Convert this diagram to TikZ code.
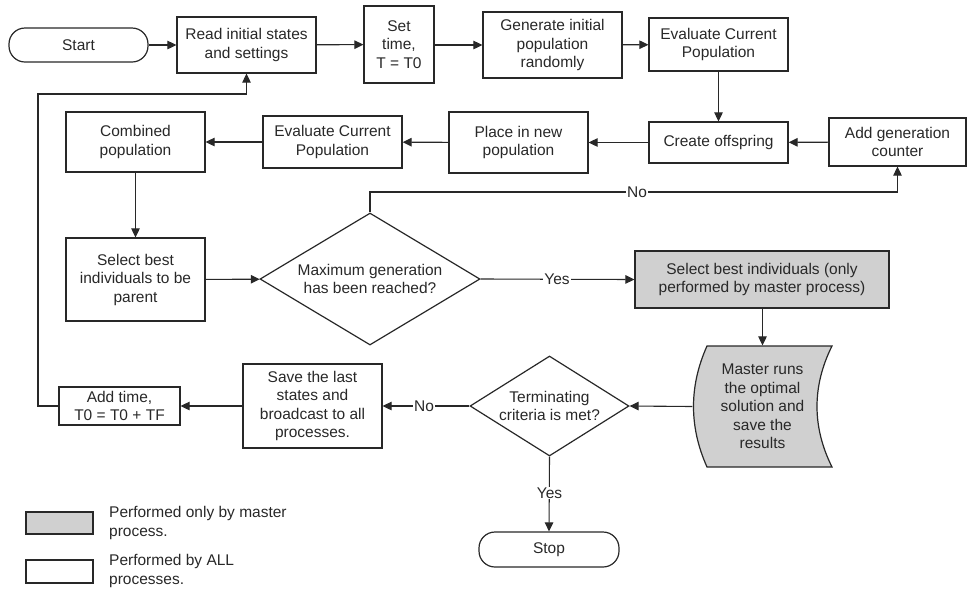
\documentclass[tikz,border=0pt]{standalone}
\usepackage{fontspec}
\setmainfont{Liberation Sans}
\usetikzlibrary{arrows.meta,shapes.geometric,backgrounds}
\definecolor{lgray}{RGB}{208,208,208}
\definecolor{ink}{RGB}{40,40,40}
\tikzset{
  base/.style={draw=ink, line width=1.2pt, inner sep=0pt, align=center, text=ink,
    font=\fontsize{15.5}{18.5}\selectfont},
  box/.style={base, rectangle},
  gbox/.style={base, rectangle, fill=lgray},
  termbox/.style={base, rectangle, rounded corners=16pt},
  decbox/.style={base, diamond, aspect=1.667},
  arr/.style={draw=ink, line width=1.1pt, -{Triangle[length=9pt,width=8.5pt]}},
  lbl/.style={fill=white, inner sep=1pt, text=ink, font=\fontsize{15.5}{18.5}\selectfont},
  legtext/.style={inner sep=0pt, align=left, anchor=west, text=ink, font=\fontsize{15.5}{18.5}\selectfont}
}
\begin{document}
\begin{tikzpicture}[x=1pt,y=-1pt]
\path[use as bounding box] (0,0) rectangle (967,590);

\node[termbox, minimum width=139pt, minimum height=34pt] (start) at (78.5,45) {Start};
\node[box, minimum width=139pt, minimum height=56pt] (read) at (246.5,45) {Read initial states\\and settings};
\node[box, minimum width=70pt, minimum height=77pt] (settime) at (399,44.5) {Set\\time,\\T = T0};
\node[box, minimum width=139pt, minimum height=66pt] (gen) at (552.5,45) {Generate initial\\population\\randomly};
\node[box, minimum width=139pt, minimum height=53pt] (evalA) at (718.5,44.5) {Evaluate Current\\Population};
\node[box, minimum width=139pt, minimum height=41pt] (offspring) at (718.5,142.5) {Create offspring};
\node[box, minimum width=137pt, minimum height=48pt] (addgen) at (897.5,142) {Add generation\\counter};
\node[box, minimum width=139pt, minimum height=61pt] (place) at (518.5,142.5) {Place in new\\population};
\node[box, minimum width=139pt, minimum height=52pt] (evalB) at (332.5,142) {Evaluate Current\\Population};
\node[box, minimum width=139pt, minimum height=60pt] (combined) at (135.5,142) {Combined\\population};
\node[box, minimum width=139pt, minimum height=83pt] (selpar) at (135.5,279.5) {Select best\\individuals to be\\parent};
\node[decbox, minimum width=220pt, minimum height=132pt] (maxgen) at (370,279) {Maximum generation\\has been reached?};
\node[gbox, minimum width=254pt, minimum height=57pt] (selmaster) at (762,279.5) {Select best individuals (only\\performed by master process)};
\node[base, draw=none, minimum width=139pt, minimum height=121pt] (master) at (762.5,406.5) {Master runs\\the optimal\\solution and\\save the\\results};
\begin{scope}[on background layer]
\draw[draw=ink, line width=1.2pt, fill=lgray]
  (707,346) -- (832,346) .. controls (812,386) and (812,427) .. (832,467)
  -- (707,467) .. controls (689,427) and (689,386) .. cycle;
\end{scope}
\node[decbox, minimum width=159pt, minimum height=100pt] (term) at (549.5,406) {Terminating\\criteria is met?};
\node[box, minimum width=139pt, minimum height=84pt] (save) at (312.5,406) {Save the last\\states and\\broadcast to all\\processes.};
\node[box, minimum width=121pt, minimum height=38pt] (addtime) at (119.5,406) {Add time,\\T0 = T0 + TF};
\node[termbox, minimum width=140pt, minimum height=35pt] (stop) at (549,549.5) {Stop};

% legend
\node[gbox, minimum width=67pt, minimum height=22pt] (legM) at (59.5,523) {};
\node[legtext] (legMt) at (109,523) {Performed only by master\\process.};
\node[box, minimum width=67pt, minimum height=23pt] (legA) at (59.5,571.5) {};
\node[legtext] (legAt) at (109,571) {Performed by ALL\\processes.};

% connectors
\draw[arr] (start) -- (read);
\draw[arr] (read) -- (settime);
\draw[arr] (settime.east |- read.east) -- (gen.west |- read.east);
\draw[arr] (gen) -- (evalA);
\draw[arr] (evalA) -- (offspring);
\draw[arr] (addgen) -- (offspring);
\draw[arr] (offspring) -- (place);
\draw[arr] (place) -- (evalB);
\draw[arr] (evalB) -- (combined);
\draw[arr] (combined) -- (selpar);
\draw[arr] (selpar) -- (maxgen);
\coordinate (noA) at (370,192);
\coordinate (noB) at (897.5,192);
\draw[arr] (maxgen.north) -- (noA) -- (noB) -- (addgen.south);
\node[lbl] (noLbl) at (637,192) {No};
\draw[arr] (maxgen.east) -- (selmaster.west);
\node[lbl] (yesLbl) at (557,279) {Yes};
\draw[arr] (selmaster.south -| master.north) -- (master.north);
\draw[arr] (master.west) -- (term.east);
\draw[arr] (term.west) -- (save.east);
\node[lbl] (no2Lbl) at (424,406) {No};
\draw[arr] (save) -- (addtime);
\draw[arr] (term.south) -- (stop.north);
\node[lbl] (yes2Lbl) at (549.5,493) {Yes};
\coordinate (fbA) at (38,406);
\coordinate (fbB) at (38,94);
\coordinate (fbC) at (246.5,94);
\draw[arr] (addtime.west) -- (fbA) -- (fbB) -- (fbC) -- (read.south);
\end{tikzpicture}
\end{document}
